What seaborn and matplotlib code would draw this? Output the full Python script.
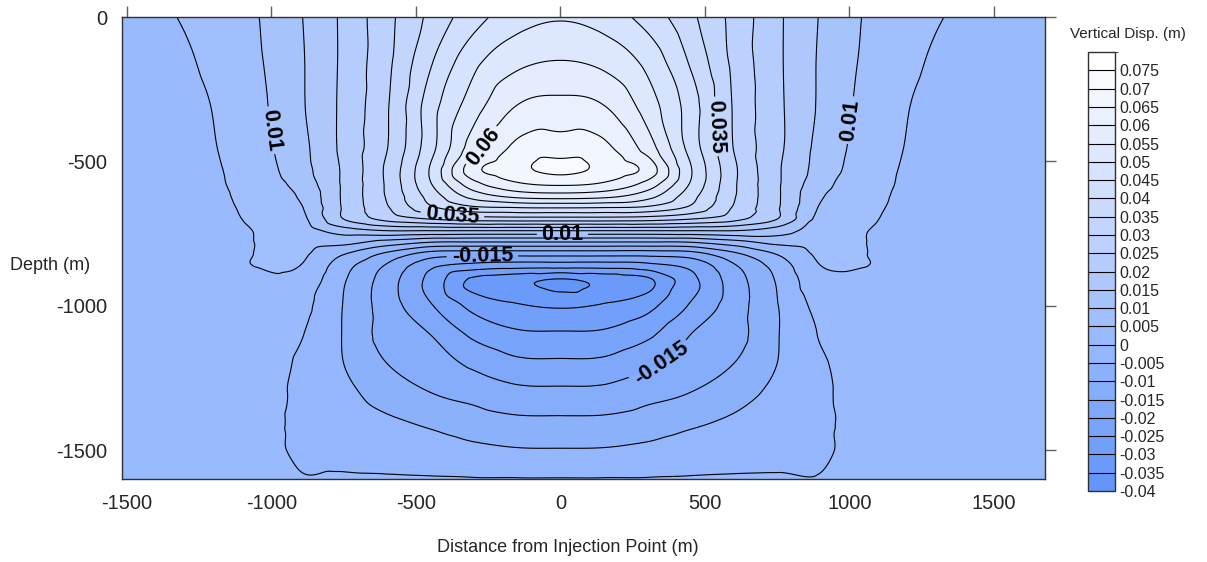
import numpy as np
import matplotlib
matplotlib.use("Agg")
import matplotlib.pyplot as plt
import matplotlib.tri as mtri
from matplotlib.colors import BoundaryNorm
import seaborn as sns

# Grid columns: horizontal distance from the injection point (m), one side
distance_m = [0, 150, 300, 450, 600, 750, 900, 1050, 1200, 1350, 1500, 1700]

# Grid rows: depth (m)
depth_m = [0, -150, -300, -450, -530, -580, -620, -660, -700, -740, -780,
           -820, -860, -910, -1000, -1100, -1200, -1300, -1400, -1500, -1600]

# Vertical displacement (m) at each grid node, one row per depth
disp_d0000 = [0.0495, 0.0478, 0.0430, 0.0362, 0.0285, 0.0210, 0.0147, 0.0098, 0.0072, 0.0047, 0.0036, 0.0032]
disp_d0150 = [0.0550, 0.0535, 0.0485, 0.0393, 0.0288, 0.0210, 0.0144, 0.0094, 0.0060, 0.0040, 0.0034, 0.0032]
disp_d0300 = [0.0612, 0.0598, 0.0525, 0.0425, 0.0295, 0.0212, 0.0143, 0.0088, 0.0052, 0.0036, 0.0033, 0.0032]
disp_d0450 = [0.0672, 0.0661, 0.0576, 0.0431, 0.0298, 0.0213, 0.0135, 0.0082, 0.0048, 0.0034, 0.0033, 0.0032]
disp_d0530 = [0.0712, 0.0685, 0.0633, 0.0455, 0.0310, 0.0208, 0.0130, 0.0076, 0.0045, 0.0034, 0.0033, 0.0032]
disp_d0580 = [0.0655, 0.0640, 0.0580, 0.0445, 0.0308, 0.0208, 0.0118, 0.0071, 0.0044, 0.0034, 0.0033, 0.0032]
disp_d0620 = [0.0575, 0.0565, 0.0520, 0.0420, 0.0305, 0.0208, 0.0106, 0.0067, 0.0042, 0.0034, 0.0033, 0.0032]
disp_d0660 = [0.0453, 0.0450, 0.0440, 0.0390, 0.0295, 0.0206, 0.0095, 0.0063, 0.0040, 0.0034, 0.0033, 0.0032]
disp_d0700 = [0.0325, 0.0325, 0.0320, 0.0300, 0.0265, 0.0200, 0.0085, 0.0058, 0.0038, 0.0033, 0.0032, 0.0032]
disp_d0740 = [0.0150, 0.0150, 0.0150, 0.0150, 0.0150, 0.0125, 0.0074, 0.0052, 0.0036, 0.0033, 0.0032, 0.0032]
disp_d0780 = [-0.0003, -0.0003, -0.0003, 0.0000, 0.0030, 0.0065, 0.0065, 0.0051, 0.0036, 0.0033, 0.0032, 0.0032]
disp_d0820 = [-0.0130, -0.0130, -0.0130, -0.0120, -0.0060, 0.0003, 0.0058, 0.0051, 0.0036, 0.0033, 0.0032, 0.0032]
disp_d0860 = [-0.0225, -0.0225, -0.0215, -0.0185, -0.0105, -0.0030, 0.0050, 0.0051, 0.0035, 0.0032, 0.0032, 0.0032]
disp_d0910 = [-0.0354, -0.0335, -0.0310, -0.0215, -0.0125, -0.0045, 0.0036, 0.0040, 0.0033, 0.0031, 0.0031, 0.0031]
disp_d1000 = [-0.0305, -0.0295, -0.0265, -0.0195, -0.0125, -0.0052, 0.0015, 0.0027, 0.0030, 0.0031, 0.0031, 0.0031]
disp_d1100 = [-0.0243, -0.0240, -0.0210, -0.0150, -0.0120, -0.0053, 0.0003, 0.0020, 0.0029, 0.0030, 0.0031, 0.0031]
disp_d1200 = [-0.0191, -0.0188, -0.0160, -0.0125, -0.0100, -0.0050, -0.0006, 0.0018, 0.0028, 0.0030, 0.0030, 0.0031]
disp_d1300 = [-0.0139, -0.0137, -0.0117, -0.0100, -0.0072, -0.0038, -0.0008, 0.0016, 0.0027, 0.0030, 0.0030, 0.0031]
disp_d1400 = [-0.0091, -0.0090, -0.0079, -0.0060, -0.0042, -0.0025, -0.0008, 0.0015, 0.0027, 0.0030, 0.0030, 0.0031]
disp_d1500 = [-0.0047, -0.0046, -0.0038, -0.0025, -0.0018, -0.0012, -0.0006, 0.0015, 0.0027, 0.0030, 0.0030, 0.0031]
disp_d1600 = [0.0002, 0.0002, 0.0002, 0.0003, 0.0004, 0.0004, 0.0002, 0.0020, 0.0028, 0.0030, 0.0030, 0.0031]

disp_rows = [disp_d0000, disp_d0150, disp_d0300, disp_d0450, disp_d0530, disp_d0580,
             disp_d0620, disp_d0660, disp_d0700, disp_d0740, disp_d0780, disp_d0820,
             disp_d0860, disp_d0910, disp_d1000, disp_d1100, disp_d1200, disp_d1300,
             disp_d1400, disp_d1500, disp_d1600]

# Contour interval and the lines that carry a label
contour_levels = np.round(np.arange(-0.04, 0.0801, 0.005), 3)
labelled_levels = [-0.015, 0.01, 0.035, 0.06]
label_spots = [(-998, -392), (1011, -358), (585, -382), (-263, -451),
               (-374, -688), (7, -750), (-270, -826), (343, -1191)]

x_ticks = [-1500, -1000, -500, 0, 500, 1000, 1500]
y_ticks = [-1500, -1000, -500, 0]

# ---- build the full (mirrored) grid ----
half = np.array(disp_rows)
dist = np.array(distance_m, dtype=float)
x_full = np.concatenate([-dist[::-1][:-1], dist])
z_full = np.hstack([half[:, ::-1][:, :-1], half])
X, Y = np.meshgrid(x_full, np.array(depth_m, dtype=float))

tri = mtri.Triangulation(X.ravel(), Y.ravel())
interp = mtri.CubicTriInterpolator(tri, z_full.ravel(), kind="geom")
refiner = mtri.UniformTriRefiner(tri)
tri_f, z_f = refiner.refine_field(z_full.ravel(), triinterpolator=interp, subdiv=4)

# ---- style ----
sns.set_style("white")
plt.rcParams["font.family"] = ["Liberation Sans", "DejaVu Sans"]
plt.rcParams["axes.unicode_minus"] = False
plt.rcParams["contour.negative_linestyle"] = "solid"

cmap = sns.blend_palette(["#6496fa", "#ffffff"], as_cmap=True)
norm = BoundaryNorm(contour_levels, cmap.N)

fig = plt.figure(figsize=(12.07, 5.62), dpi=100)
ax = fig.add_axes([0.1011, 0.1477, 0.7647, 0.822])

filled = ax.tricontourf(tri_f, z_f, levels=contour_levels, cmap=cmap, norm=norm)

inner = contour_levels[1:-1]
plain_levels = [v for v in inner if not np.any(np.isclose(v, labelled_levels))]
label_levels = [v for v in inner if np.any(np.isclose(v, labelled_levels))]
lines = ax.tricontour(tri_f, z_f, levels=plain_levels, colors="black",
                      linewidths=0.8, linestyles="solid")
lab_lines = ax.tricontour(tri_f, z_f, levels=label_levels, colors="black",
                          linewidths=0.8, linestyles="solid")
texts = ax.clabel(lab_lines, manual=label_spots, inline=True, inline_spacing=3,
                  fmt=lambda v: f"{v:g}", fontsize=15.5, colors="black")
for t in texts:
    t.set_fontweight("bold")

ax.set_xlim(-1517, 1677)
ax.set_ylim(-1600, 0)
ax.set_xticks(x_ticks)
ax.set_yticks(y_ticks)
ax.tick_params(direction="out", length=8, width=1, color="#606060",
               top=True, right=True, labeltop=False, labelright=False,
               labelsize=14.5, pad=2.5)
for s in ax.spines.values():
    s.set_color("#303030")
    s.set_linewidth(1.0)

fig.text(10 / 1207, 1 - 265 / 562, "Depth (m)", ha="left", va="center", fontsize=13)
fig.text(568 / 1207, 1 - 548 / 562, "Distance from Injection Point (m)",
         ha="center", va="center", fontsize=13)

# ---- colour bar ----
cax = fig.add_axes([0.9014, 0.1263, 0.0224, 0.781])
cb = fig.colorbar(filled, cax=cax, ticks=contour_levels[:-1], spacing="uniform")
cb.add_lines(lines)
cb.add_lines(lab_lines, erase=False)
cb.set_ticklabels([("0" if abs(v) < 1e-9 else f"{v:g}") for v in contour_levels[:-1]])
cax.tick_params(length=0, labelsize=11.5, pad=3)
cb.outline.set_color("#303030")
cb.outline.set_linewidth(1.0)
fig.text(1128 / 1207, 1 - 34 / 562, "Vertical Disp. (m)", ha="center", va="center",
         fontsize=11)

fig.savefig("out.png", dpi=100)
